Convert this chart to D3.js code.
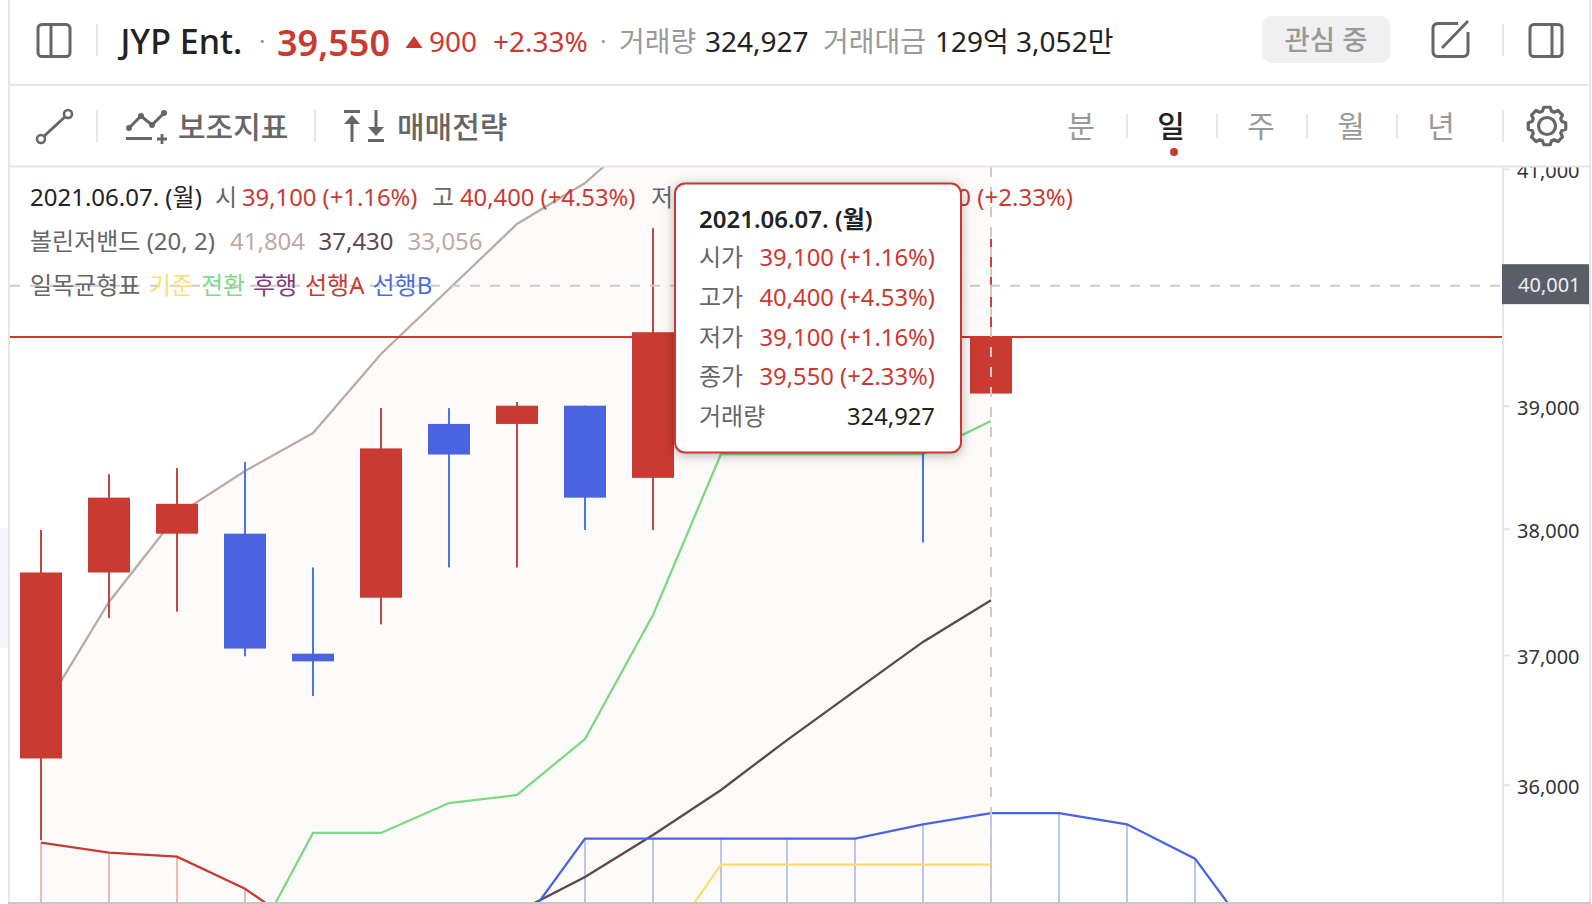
<!DOCTYPE html>
<html lang="ko">
<head>
<meta charset="utf-8">
<script src="https://cdn.jsdelivr.net/npm/d3@7"></script>
<style>
  html, body { margin: 0; padding: 0; background: #fff; }
  svg { display: block; }
  text { font-family: "Noto Sans", "Noto Sans CJK KR", sans-serif; }
</style>
</head>
<body>
<div id="chart"></div>
<script>
'use strict';

// trading days, the last slots are the future part of the ichimoku cloud
const dates = ['05.17', '05.18', '05.20', '05.21', '05.24', '05.25', '05.26', '05.27', '05.28', '05.31',
               '06.01', '06.02', '06.03', '06.04', '06.07', '+1', '+2', '+3', '+4'];

// c10..c13 sit under the tooltip, only the c13 lower wick can be read
const opens  = [36200, 37650, 37960, 37960, 37010, 37450, 38850, 38850, 39000, 38410, 39600, 39000, 39500, 39100, 39100];
const highs  = [37990, 38440, 38490, 38540, 37690, 38980, 38980, 39030, 39000, 40490, 40100, 39600, 39800, 39500, 40400];
const lows   = [35580, 37290, 37340, 36990, 36680, 37240, 37690, 37690, 37990, 37990, 38800, 38800, 39000, 37890, 39100];
const closes = [37650, 38250, 38200, 37050, 36950, 38650, 38600, 39000, 38250, 39610, 39000, 39400, 39150, 38650, 39570];

const bollUpper = [36540, 37416, 38110, 38466, 38776, 39428, 39973, 40526, 40878, 41400, 41550, 41650, 41730, 41780, 41804];
const bollMid   = [null, null, null, null, null, null, null, 35045, 35305, 35620, 35960, 36341, 36720, 37102, 37430];
const bollLower = [34700, 34500, 34300, 34100, 33950, 33800, 33700, 33600, 33500, 33400, 33300, 33250, 33180, 33110, 33056];

const kijun  = [null, null, null, null, null, null, null, null, null, 34678, 35397, 35397, 35397, 35397, 35397];
const tenkan = [null, null, null, 34691, 35635, 35635, 35861, 35922, 36349, 37314, 38604, 38604, 38604, 38604, 38874];
const spanA  = [35562, 35487, 35457, 35218, 34868];
const spanB  = [null, null, null, null, null, null, null, 34897, 35592, 35592, 35592, 35592, 35592, 35700, 35785, 35785, 35700, 35442, 34760];

const priceTicks = [36000, 37000, 38000, 39000, 41000];
const lastPrice = 39570;
const crossPrice = 40001;
const crossIndex = 14;

const tooltipRows = [
  ['시가', '39,100 (+1.16%)'],
  ['고가', '40,400 (+4.53%)'],
  ['저가', '39,100 (+1.16%)'],
  ['종가', '39,550 (+2.33%)'],
  ['거래량', '324,927']
];
const periods = ['분', '일', '주', '월', '년'];

const RED = '#c93a32', BLUE = '#4b63e0', GRAY = '#666', LIGHT = '#999', DARK = '#222', LINE = '#e6e6e6';
const width = 1592, height = 904;
const plot = { left: 10, right: 1503, top: 167, bottom: 902 };

const svg = d3.select('#chart').append('svg').attr('width', width).attr('height', height);

// the chart snaps its bars to whole pixels, one gap is 66 instead of 68
const x = d3.scaleLinear().domain([0, 10, 11, 18]).range([41, 721, 787, 1263]);
const y = d3.scaleLog().domain([36000, 41000]).range([784.7, 168.9]);

function txt(g, tx, ty, str, size, fill, opts) {
  opts = opts || {};
  return g.append('text').attr('x', tx).attr('y', ty).text(str)
    .attr('font-size', size).attr('fill', fill)
    .attr('font-weight', opts.weight || 400)
    .attr('text-anchor', opts.anchor || 'start');
}
function sep(px, y1, y2) {
  svg.append('line').attr('x1', px).attr('x2', px).attr('y1', y1).attr('y2', y2)
    .attr('stroke', LINE).attr('stroke-width', 2);
}

svg.append('defs').append('clipPath').attr('id', 'plot-clip').append('rect')
  .attr('x', plot.left).attr('y', plot.top)
  .attr('width', plot.right - plot.left).attr('height', plot.bottom - plot.top);
d3.select('defs').append('clipPath').attr('id', 'axis-clip').append('rect')
  .attr('x', plot.right).attr('y', plot.top).attr('width', 90).attr('height', plot.bottom - plot.top);

// frame
svg.append('rect').attr('x', 0).attr('y', 528).attr('width', 8).attr('height', 120).attr('fill', '#f5f5fd');

const g = svg.append('g').attr('clip-path', 'url(#plot-clip)');

// bollinger band fill
g.append('path')
  .datum(d3.range(bollUpper.length))
  .attr('fill', '#fcfbf9')
  .attr('d', d3.area().x(i => x(i)).y0(i => y(bollLower[i])).y1(i => y(bollUpper[i])));

// cloud hatching
const hatchA = spanA.map((v, i) => ({ i, v }));
const hatchB = spanB.map((v, i) => ({ i, v })).filter(d => d.v !== null);
g.selectAll('.hatch-a').data(hatchA).enter().append('line').attr('class', 'hatch-a')
  .attr('x1', d => x(d.i)).attr('x2', d => x(d.i)).attr('y1', d => y(d.v)).attr('y2', plot.bottom)
  .attr('stroke', '#f0b9b6').attr('stroke-width', 2);
g.selectAll('.hatch-b').data(hatchB).enter().append('line').attr('class', 'hatch-b')
  .attr('x1', d => x(d.i)).attr('x2', d => x(d.i)).attr('y1', d => y(d.v)).attr('y2', plot.bottom)
  .attr('stroke', '#b9c6f0').attr('stroke-width', 2);

// indicator lines
const lineGen = d3.line().defined(d => d !== null).x((d, i) => x(i)).y(d => y(d));
[[bollUpper, '#bcaaa4'], [bollMid, '#5d474a'], [spanA, RED], [spanB, '#4a64e0'], [kijun, '#fbdc74'], [tenkan, '#7dd884']]
  .forEach(s => {
    g.append('path').datum(s[0]).attr('d', lineGen)
      .attr('fill', 'none').attr('stroke', s[1]).attr('stroke-width', 2.3);
  });

// candles
const candles = d3.range(opens.length);
const isUp = i => closes[i] >= opens[i];
g.selectAll('.wick').data(candles).enter().append('rect').attr('class', 'wick')
  .attr('x', i => x(i) - 1).attr('width', 2)
  .attr('y', i => y(highs[i])).attr('height', i => y(lows[i]) - y(highs[i]))
  .attr('fill', i => isUp(i) ? '#c8443e' : '#4a76e2');
g.selectAll('.body').data(candles).enter().append('rect').attr('class', 'body')
  .attr('x', i => x(i) - 21).attr('width', 42)
  .attr('y', i => y(Math.max(opens[i], closes[i])))
  .attr('height', i => Math.abs(y(opens[i]) - y(closes[i])))
  .attr('fill', i => isUp(i) ? RED : BLUE);

// last price line and crosshair
g.append('line').attr('x1', plot.left).attr('x2', plot.right).attr('y1', y(lastPrice)).attr('y2', y(lastPrice))
  .attr('stroke', RED).attr('stroke-width', 2);
g.append('line').attr('x1', plot.left).attr('x2', plot.right).attr('y1', y(crossPrice)).attr('y2', y(crossPrice))
  .attr('stroke', '#ccc').attr('stroke-width', 2).attr('stroke-dasharray', '10 10');
g.append('line').attr('x1', x(crossIndex)).attr('x2', x(crossIndex)).attr('y1', plot.top).attr('y2', plot.bottom)
  .attr('stroke', '#ccc').attr('stroke-width', 2).attr('stroke-dasharray', '10 10');

// price axis
const axisG = svg.append('g').attr('clip-path', 'url(#axis-clip)').append('g')
  .attr('transform', `translate(${plot.right},0)`)
  .call(d3.axisRight(y).tickValues(priceTicks).tickFormat(d3.format(',')).tickSize(7).tickPadding(7));
axisG.select('.domain').remove();
axisG.selectAll('.tick line').attr('stroke', LINE).attr('stroke-width', 2);
axisG.selectAll('.tick text').attr('font-size', 20).attr('font-family', null).attr('fill', '#333').attr('dy', '0.45em');

sep(plot.right, plot.top, plot.bottom);
svg.append('rect').attr('x', plot.right - 1).attr('y', y(crossPrice) - 21.5).attr('width', 88).attr('height', 40).attr('fill', '#5a5e69');
txt(svg, 1518, y(crossPrice) + 6, d3.format(',')(crossPrice), 20, '#f0f0f0');

// frame lines
sep(9, 0, plot.bottom);
sep(1590, 0, plot.bottom);
svg.append('line').attr('x1', 8).attr('x2', 1591).attr('y1', 903).attr('y2', 903).attr('stroke', '#c8c8c8').attr('stroke-width', 2);
svg.append('line').attr('x1', 9).attr('x2', 1590).attr('y1', 85).attr('y2', 85).attr('stroke', LINE).attr('stroke-width', 2);
svg.append('line').attr('x1', 9).attr('x2', 1590).attr('y1', 166.5).attr('y2', 166.5).attr('stroke', LINE).attr('stroke-width', 2);

// legend rows
const lg = svg.append('g');
txt(lg, 30, 205.5, '2021.06.07. (월)', 24, DARK);
txt(lg, 215, 205.5, '시', 24, GRAY);
txt(lg, 242, 205.5, '39,100 (+1.16%)', 23.8, RED);
txt(lg, 432, 205.5, '고', 24, GRAY);
txt(lg, 460, 205.5, '40,400 (+4.53%)', 23.8, RED);
txt(lg, 651, 205.5, '저', 24, GRAY);
txt(lg, 679, 205.5, '39,100 (+1.16%)', 24, RED);
txt(lg, 870, 205.5, '종', 24, GRAY);
txt(lg, 1073, 205.5, '39,550 (+2.33%)', 24, RED, { anchor: 'end' });

txt(lg, 30, 249.5, '볼린저밴드 (20, 2)', 24, GRAY);
txt(lg, 230, 249.5, '41,804', 24, '#bcaaa4');
txt(lg, 318.5, 249.5, '37,430', 24, '#5d474a');
txt(lg, 407.5, 249.5, '33,056', 24, '#bcaaa4');

txt(lg, 30, 294, '일목균형표', 24, GRAY);
txt(lg, 149, 294, '기준', 24, '#fddd77');
txt(lg, 201, 294, '전환', 24, '#80dc85');
txt(lg, 253, 294, '후행', 24, '#7b3f78');
txt(lg, 305, 294, '선행A', 24, RED);
txt(lg, 372.5, 294, '선행B', 24, '#4d6ce3');

// tooltip
const tip = svg.append('g');
tip.append('rect').attr('x', 675).attr('y', 183.5).attr('width', 286).attr('height', 269).attr('rx', 10)
  .attr('fill', '#fff').attr('stroke', RED).attr('stroke-width', 2)
  .style('filter', 'drop-shadow(0 2px 6px rgba(0,0,0,0.28))');
txt(tip, 699, 228, '2021.06.07. (월)', 24, DARK, { weight: 600 });
const rowY = d3.scaleLinear().domain([0, 4]).range([266, 425]);
tooltipRows.forEach((r, i) => {
  txt(tip, 699, rowY(i), r[0], 24, GRAY);
  txt(tip, 935, rowY(i), r[1], 23.8, i < 4 ? RED : DARK, { anchor: 'end' });
});

// header row
const h = svg.append('g');
function panelIcon(x0, w, div) {
  h.append('rect').attr('x', x0).attr('y', 24.5).attr('width', w).attr('height', 32).attr('rx', 4)
    .attr('fill', 'none').attr('stroke', GRAY).attr('stroke-width', 3);
  h.append('line').attr('x1', div).attr('x2', div).attr('y1', 24.5).attr('y2', 56.5).attr('stroke', GRAY).attr('stroke-width', 3);
}
panelIcon(38, 32, 51);
sep(97, 24, 56);
txt(h, 120.5, 54, 'JYP Ent.', 34, DARK, { weight: 500 });
txt(h, 259, 50, '·', 24, LIGHT);
txt(h, 277, 56, '39,550', 36, RED, { weight: 600 });
h.append('path').attr('d', 'M414 36 L422.5 48 L405.5 48 Z').attr('fill', RED);
txt(h, 429, 52, '900', 28, RED);
txt(h, 493, 52, '+2.33%', 28, RED);
txt(h, 600, 50, '·', 24, LIGHT);
txt(h, 619, 52, '거래량', 28, LIGHT);
txt(h, 705, 52, '324,927', 28, DARK);
txt(h, 823, 52, '거래대금', 28, LIGHT);
txt(h, 935, 52, '129억 3,052만', 28, DARK);

h.append('rect').attr('x', 1262).attr('y', 16).attr('width', 128).attr('height', 47).attr('rx', 10).attr('fill', '#f0f0f0');
txt(h, 1326, 50, '관심 중', 27.5, LIGHT, { anchor: 'middle', weight: 500 });

// edit icon
h.append('path').attr('d', 'M1458 23.5 H1438 Q1433 23.5 1433 28.5 V51.5 Q1433 56.5 1438 56.5 H1463 Q1468 56.5 1468 51.5 V32')
  .attr('fill', 'none').attr('stroke', GRAY).attr('stroke-width', 3);
h.append('line').attr('x1', 1442).attr('y1', 48).attr('x2', 1468).attr('y2', 21).attr('stroke', GRAY).attr('stroke-width', 2.8);
sep(1503, 24, 56);
panelIcon(1530, 32, 1552);

// toolbar row
const tb = svg.append('g');
tb.append('line').attr('x1', 41).attr('y1', 139).attr('x2', 68).attr('y2', 114).attr('stroke', GRAY).attr('stroke-width', 3);
tb.selectAll('circle').data([[41, 139], [68, 114]]).enter().append('circle')
  .attr('cx', d => d[0]).attr('cy', d => d[1]).attr('r', 4)
  .attr('fill', '#fff').attr('stroke', GRAY).attr('stroke-width', 2.6);
sep(97, 110, 142);

tb.append('path').attr('d', 'M129 128 L141 116 L152 125 L164 113').attr('fill', 'none').attr('stroke', GRAY).attr('stroke-width', 3);
tb.selectAll('.node').data([[129, 128], [141, 116], [152, 125], [164, 113]]).enter().append('circle').attr('class', 'node')
  .attr('cx', d => d[0]).attr('cy', d => d[1]).attr('r', 3).attr('fill', GRAY);
tb.append('path').attr('d', 'M126 138.5 H152 M162 134 V144 M157 139 H167').attr('fill', 'none').attr('stroke', GRAY).attr('stroke-width', 2.8);
txt(tb, 178, 138, '보조지표', 30, GRAY, { weight: 500 });
sep(315, 110, 142);

tb.append('path').attr('d', 'M344 111.5 H360 M352 142 V122').attr('fill', 'none').attr('stroke', GRAY).attr('stroke-width', 3);
tb.append('path').attr('d', 'M344 124 L352 115 L360 124 Z').attr('fill', GRAY);
tb.append('path').attr('d', 'M376 110 V130 M368 140.5 H384').attr('fill', 'none').attr('stroke', GRAY).attr('stroke-width', 3);
tb.append('path').attr('d', 'M368 127 L376 136 L384 127 Z').attr('fill', GRAY);
txt(tb, 397, 138, '매매전략', 30, GRAY, { weight: 500 });

const periodX = d3.scaleLinear().domain([0, 4]).range([1081, 1441]);
periods.forEach((p, i) => {
  txt(tb, periodX(i), 137, p, 30, i === 1 ? DARK : LIGHT, { anchor: 'middle', weight: i === 1 ? 500 : 400 });
  if (i < 4) sep(periodX(i) + 46, 114, 138);
});
tb.append('circle').attr('cx', 1174).attr('cy', 152).attr('r', 4).attr('fill', RED);
sep(1503, 110, 142);

// gear
const gearPts = [];
d3.range(8).forEach(k => {
  const a = k * Math.PI / 4;
  [[-0.30, 15.5], [-0.17, 19], [0.17, 19], [0.30, 15.5]].forEach(p => {
    gearPts.push([1547 + p[1] * Math.sin(a + p[0]), 126 - p[1] * Math.cos(a + p[0])]);
  });
});
tb.append('path').attr('d', d3.line().curve(d3.curveLinearClosed)(gearPts))
  .attr('fill', 'none').attr('stroke', GRAY).attr('stroke-width', 3.2).attr('stroke-linejoin', 'round');
tb.append('circle').attr('cx', 1547).attr('cy', 126).attr('r', 8.5).attr('fill', 'none').attr('stroke', GRAY).attr('stroke-width', 3.2);
</script>
</body>
</html>
